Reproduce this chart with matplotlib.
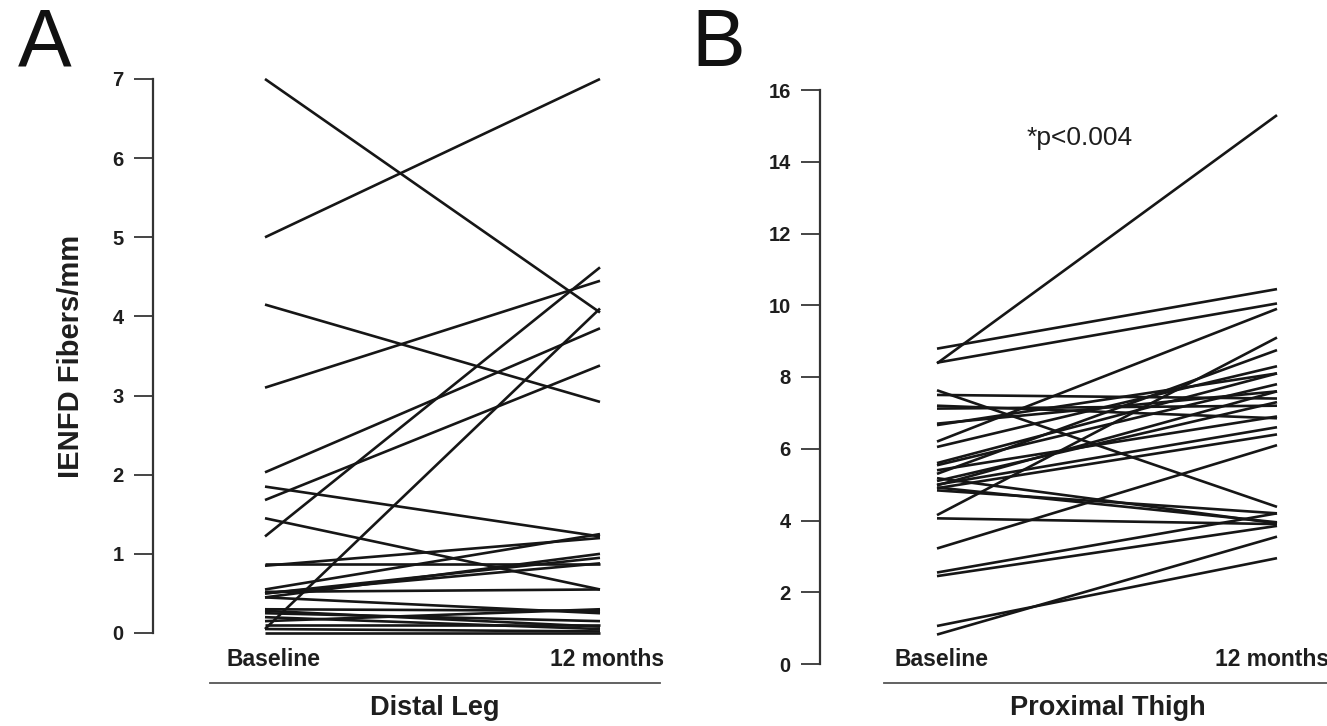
import matplotlib
matplotlib.use("Agg")
import matplotlib.pyplot as plt
from matplotlib.lines import Line2D
from matplotlib.transforms import blended_transform_factory

plt.rcParams['font.family'] = ['Liberation Sans', 'DejaVu Sans']

timepoints = ["Baseline", "12 months"]

# Panel A: Distal Leg IENFD (fibers/mm)
distal_baseline = [7.0, 5.0, 4.15, 3.1, 2.03, 1.85, 1.68, 1.45, 1.22, 0.87, 0.85,
                   0.55, 0.50, 0.45, 0.52, 0.45, 0.30, 0.25, 0.20, 0.10, 0.05, 0.05,
                   0.15, 0.0, 0.5, 0.28]
distal_12m = [4.05, 7.0, 2.92, 4.45, 3.85, 1.22, 3.38, 0.55, 4.62, 0.87, 1.20,
              1.25, 0.88, 1.00, 0.55, 0.25, 0.28, 0.15, 0.05, 0.10, 0.02, 4.10,
              0.30, 0.0, 0.95, 0.08]

# Panel B: Proximal Thigh IENFD (fibers/mm)
prox_baseline = [8.79, 8.38, 8.40, 7.63, 7.50, 7.12, 6.66, 6.20, 6.05, 5.54, 5.40,
                 5.30, 5.18, 5.00, 4.98, 4.90, 4.84, 4.15, 4.06, 3.22, 2.55, 2.45,
                 1.06, 0.82, 7.20, 5.60, 5.10, 4.92, 6.70]
prox_12m = [10.45, 15.3, 10.05, 4.38, 7.40, 7.20, 8.10, 9.90, 8.30, 7.80, 6.90,
            8.75, 3.92, 6.60, 7.60, 6.40, 4.20, 9.10, 3.90, 6.10, 4.20, 3.85,
            2.95, 3.55, 6.85, 8.10, 7.30, 3.95, 7.60]

W, H = 1327, 726
fig = plt.figure(figsize=(W / 100, H / 100), dpi=100)

def px_rect(left, top, right, bottom):
    return [left / W, 1 - bottom / H, (right - left) / W, (bottom - top) / H]

line_kw = dict(color='#161616', lw=1.9, solid_capstyle='butt', clip_on=False)
txt_col = '#1e1e1e'

def style_axes(ax, yticks):
    for s in ['top', 'right', 'bottom']:
        ax.spines[s].set_visible(False)
    ax.spines['left'].set_linewidth(1.6)
    ax.spines['left'].set_color('#333333')
    ax.set_xticks([])
    ax.set_yticks(yticks)
    ax.set_yticklabels([str(t) for t in yticks], fontsize=14.5, fontweight='bold',
                       color=txt_col)
    ax.tick_params(axis='y', length=14, width=1.4, color='#444444', pad=7)

# ---- Panel A ----
axA = fig.add_axes(px_rect(153, 79, 660, 633))
for b, m in zip(distal_baseline, distal_12m):
    axA.plot([0, 1], [b, m], **line_kw)
axA.set_xlim(-(265 - 153) / 335, 1 + (660 - 600) / 335)
axA.set_ylim(0, 7)
style_axes(axA, list(range(0, 8)))
axA.set_ylabel("IENFD Fibers/mm", fontsize=21, fontweight='bold', labelpad=20,
               color=txt_col)

trA = blended_transform_factory(axA.transData, fig.transFigure)
for xpos, lab in zip([(274 - 265) / 335, (607 - 265) / 335], timepoints):
    axA.text(xpos, 1 - 660 / H, lab, transform=trA, ha='center', va='center',
             fontsize=16.5, fontweight='bold', color=txt_col)
fig.add_artist(Line2D([210 / W, 660 / W], [1 - 683 / H, 1 - 683 / H],
                      color='#555555', lw=1.3))
fig.text(435 / W, 1 - 708 / H, "Distal Leg", ha='center', va='center',
         fontsize=19.5, fontweight='bold', color=txt_col)
fig.text(45 / W, 1 - 45 / H, "A", ha='center', va='center', fontsize=58,
         color='#111111')

# ---- Panel B ----
axB = fig.add_axes(px_rect(820, 90, 1327, 664))
for b, m in zip(prox_baseline, prox_12m):
    axB.plot([0, 1], [b, m], **line_kw)
axB.set_xlim(-(937 - 820) / 340, 1 + (1327 - 1277) / 340)
axB.set_ylim(0, 16)
style_axes(axB, list(range(0, 17, 2)))
axB.text(0.42, 14.65, "*p<0.004", ha='center', va='center', fontsize=19,
         color=txt_col)

trB = blended_transform_factory(axB.transData, fig.transFigure)
for xpos, lab in zip([(942 - 937) / 340, (1272 - 937) / 340], timepoints):
    axB.text(xpos, 1 - 660 / H, lab, transform=trB, ha='center', va='center',
             fontsize=16.5, fontweight='bold', color=txt_col, clip_on=False)
fig.add_artist(Line2D([884 / W, 1327 / W], [1 - 683 / H, 1 - 683 / H],
                      color='#555555', lw=1.3))
fig.text(1108 / W, 1 - 708 / H, "Proximal Thigh", ha='center', va='center',
         fontsize=19.5, fontweight='bold', color=txt_col)
fig.text(718 / W, 1 - 45 / H, "B", ha='center', va='center', fontsize=58,
         color='#111111')

fig.savefig("out.png", dpi=100, facecolor='white')
